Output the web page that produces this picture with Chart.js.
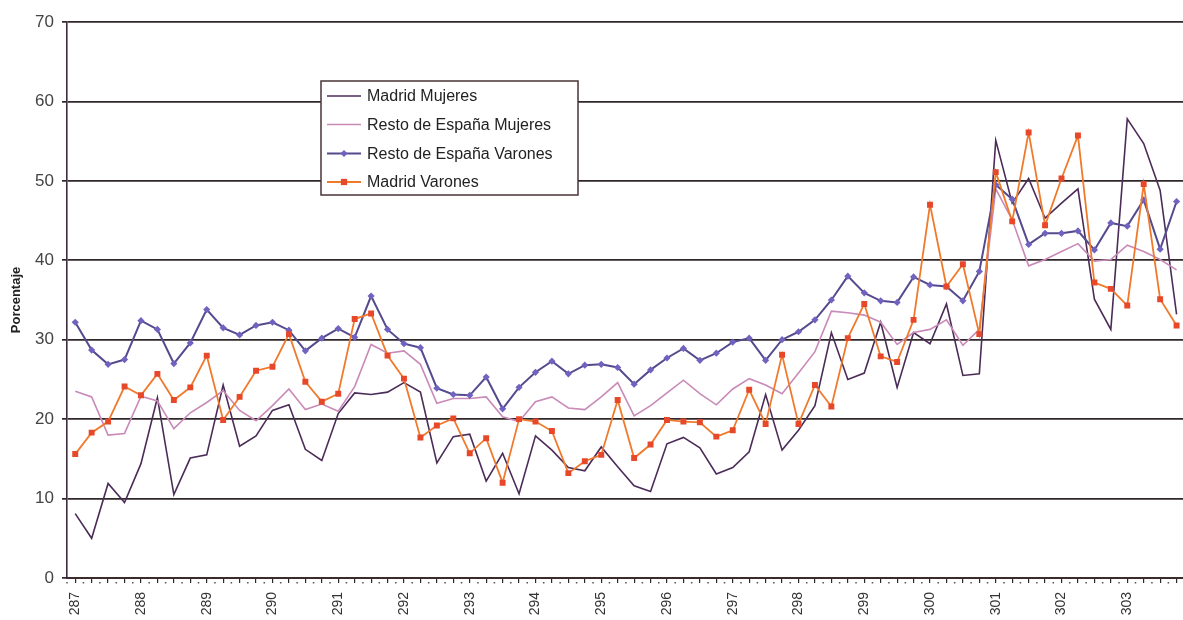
<!DOCTYPE html>
<html>
<head>
<meta charset="utf-8">
<script src="https://cdn.jsdelivr.net/npm/chart.js@4.4.1/dist/chart.umd.min.js"></script>
<style>
  html, body { margin: 0; padding: 0; background: #fff; overflow: hidden; }
  #wrap { width: 1183px; height: 620px; overflow: hidden; }
</style>
</head>
<body>
<div id="wrap"><canvas id="grafico" width="1189" height="620"></canvas></div>
<script>
// periodos: cada etiqueta abarca 4 observaciones
const periodos = ['287','288','289','290','291','292','293','294','295','296','297','298','299','300','301','302','303'];

const madridMujeres = [8.1, 5.0, 11.9, 9.5, 14.4, 22.7, 10.5, 15.1, 15.5, 24.3, 16.6, 17.9, 21.1, 21.8, 16.2, 14.8,
  20.7, 23.3, 23.1, 23.4, 24.6, 23.4, 14.5, 17.8, 18.1, 12.2, 15.7, 10.6, 17.9, 16.1, 13.9, 13.5,
  16.5, 14.0, 11.6, 10.9, 16.9, 17.7, 16.4, 13.1, 13.9, 15.9, 23.1, 16.1, 18.6, 21.7, 30.9, 25.0,
  25.8, 32.2, 24.0, 30.9, 29.5, 34.5, 25.5, 25.7, 55.1, 47.2, 50.3, 45.3, 47.2, 49.0, 35.1, 31.3,
  57.8, 54.7, 48.8, 33.2];

const restoMujeres = [23.5, 22.8, 18.0, 18.2, 22.9, 22.3, 18.8, 20.8, 22.1, 23.6, 21.1, 19.8, 21.7, 23.8, 21.2, 21.9,
  21.0, 24.1, 29.4, 28.3, 28.6, 26.9, 22.0, 22.6, 22.6, 22.8, 20.3, 19.7, 22.2, 22.8, 21.4, 21.2,
  22.8, 24.6, 20.4, 21.7, 23.3, 24.9, 23.2, 21.8, 23.8, 25.1, 24.3, 23.2, 25.8, 28.5, 33.6, 33.4,
  33.1, 32.2, 29.4, 30.9, 31.3, 32.5, 29.3, 31.3, 49.0, 45.1, 39.3, 40.1, 41.1, 42.1, 39.9, 40.1,
  41.9, 41.1, 40.1, 38.8];

const restoVarones = [32.2, 28.7, 26.9, 27.5, 32.4, 31.3, 27.0, 29.6, 33.8, 31.5, 30.6, 31.8, 32.2, 31.2, 28.6, 30.2,
  31.4, 30.3, 35.5, 31.3, 29.5, 29.0, 23.9, 23.1, 23.0, 25.3, 21.3, 24.0, 25.9, 27.3, 25.7, 26.8,
  26.9, 26.5, 24.4, 26.2, 27.7, 28.9, 27.4, 28.3, 29.7, 30.2, 27.4, 30.0, 31.0, 32.5, 35.0, 38.0,
  35.9, 34.9, 34.7, 37.9, 36.9, 36.7, 34.9, 38.6, 49.5, 47.7, 42.0, 43.4, 43.4, 43.7, 41.3, 44.7,
  44.3, 47.6, 41.4, 47.4];

const madridVarones = [15.6, 18.3, 19.7, 24.1, 23.0, 25.7, 22.4, 24.0, 28.0, 19.9, 22.8, 26.1, 26.6, 30.7, 24.7, 22.2,
  23.2, 32.6, 33.3, 28.0, 25.1, 17.7, 19.2, 20.1, 15.7, 17.6, 12.0, 20.0, 19.7, 18.5, 13.2, 14.7,
  15.5, 22.4, 15.1, 16.8, 19.9, 19.7, 19.6, 17.8, 18.6, 23.7, 19.4, 28.1, 19.4, 24.3, 21.6, 30.2,
  34.5, 27.9, 27.2, 32.5, 47.0, 36.7, 39.5, 30.7, 51.1, 44.9, 56.1, 44.4, 50.3, 55.7, 37.2, 36.4,
  34.3, 49.6, 35.1, 31.8];

const etiquetas = periodos.flatMap(p => [p, '', '', '']);

const FUENTE = '"Liberation Sans", Arial, sans-serif';
const GRIS = '#2f2729';

// leyenda flotante dentro del area del grafico
const leyenda = {
  id: 'leyenda',
  afterDraw(chart) {
    const ctx = chart.ctx;
    const x = 321, y = 81, w = 257, h = 114;
    ctx.save();
    ctx.fillStyle = '#fff';
    ctx.fillRect(x, y, w, h);
    ctx.strokeStyle = '#4a3436';
    ctx.lineWidth = 1.5;
    ctx.strokeRect(x, y, w, h);
    ctx.font = '16px ' + FUENTE;
    ctx.textBaseline = 'middle';
    const filas = [96, 124.5, 153.5, 182];
    chart.data.datasets.forEach((ds, i) => {
      const fy = filas[i];
      ctx.strokeStyle = ds.borderColor;
      ctx.lineWidth = ds.borderWidth;
      ctx.beginPath();
      ctx.moveTo(327, fy);
      ctx.lineTo(361, fy);
      ctx.stroke();
      if (ds.pointRadius > 0) {
        ctx.fillStyle = ds.pointBackgroundColor;
        const r = ds.pointRadius;
        ctx.beginPath();
        if (ds.pointStyle === 'rectRot') {
          ctx.moveTo(344, fy - r); ctx.lineTo(344 + r, fy);
          ctx.lineTo(344, fy + r); ctx.lineTo(344 - r, fy);
        } else {
          ctx.rect(344 - r * 0.75, fy - r * 0.75, r * 1.5, r * 1.5);
        }
        ctx.closePath();
        ctx.fill();
      }
      ctx.fillStyle = '#222';
      ctx.fillText(ds.label, 367, fy + 1);
    });
    ctx.restore();
  }
};

// puntos menores entre las marcas del eje X
const puntosEje = {
  id: 'puntosEje',
  afterDraw(chart) {
    const sx = chart.scales.x;
    const ctx = chart.ctx;
    ctx.save();
    ctx.fillStyle = '#555';
    for (let i = -1; i < etiquetas.length; i++) {
      const px = sx.getPixelForValue(i + 0.5);
      if (px < sx.left) continue;
      ctx.fillRect(px - 0.75, sx.top + 4, 1.5, 1.5);
    }
    ctx.restore();
  }
};

new Chart(document.getElementById('grafico'), {
  type: 'line',
  data: {
    labels: etiquetas,
    datasets: [
      {
        label: 'Madrid Mujeres',
        data: madridMujeres,
        borderColor: '#4b2c58',
        borderWidth: 1.6,
        pointRadius: 0,
        tension: 0,
        order: 4
      },
      {
        label: 'Resto de España Mujeres',
        data: restoMujeres,
        borderColor: '#c98ab8',
        borderWidth: 1.6,
        pointRadius: 0,
        tension: 0,
        order: 3
      },
      {
        label: 'Resto de España Varones',
        data: restoVarones,
        borderColor: '#554a8e',
        borderWidth: 2,
        pointStyle: 'rectRot',
        pointRadius: 3.6,
        pointBackgroundColor: '#7063c0',
        pointBorderColor: '#7063c0',
        pointBorderWidth: 0,
        tension: 0,
        order: 2
      },
      {
        label: 'Madrid Varones',
        data: madridVarones,
        borderColor: '#f07a2c',
        borderWidth: 1.8,
        pointStyle: 'rect',
        pointRadius: 4.2,
        pointBackgroundColor: '#e8482a',
        pointBorderColor: '#e8482a',
        pointBorderWidth: 0,
        tension: 0,
        order: 1
      }
    ]
  },
  options: {
    responsive: false,
    animation: false,
    devicePixelRatio: 1,
    layout: { padding: { top: 22, left: 0, right: 0, bottom: 0 } },
    plugins: {
      legend: { display: false },
      tooltip: { enabled: false }
    },
    scales: {
      x: {
        offset: true,
        afterFit(scale) {
          scale.height = 42;
          scale.paddingLeft = 0;
          scale.paddingRight = 0;
        },
        grid: {
          offset: false,
          drawOnChartArea: false,
          drawTicks: true,
          tickLength: 5,
          color: GRIS,
          lineWidth: 1.2
        },
        border: { display: true, color: '#3b2b2b', width: 2 },
        ticks: {
          autoSkip: false,
          minRotation: 90,
          maxRotation: 90,
          padding: 9,
          color: '#333',
          font: { family: FUENTE, size: 14 }
        }
      },
      y: {
        min: 0,
        max: 70,
        afterFit(scale) { scale.width = 67; },
        grid: {
          color: GRIS,
          lineWidth: 1.7,
          tickLength: 5,
          drawTicks: true
        },
        border: { display: true, color: '#3e2c3c', width: 1.6 },
        ticks: {
          stepSize: 10,
          padding: 8,
          color: '#444',
          font: { family: FUENTE, size: 17 }
        },
        title: {
          display: true,
          text: 'Porcentaje',
          color: '#222',
          padding: { top: 9, bottom: 0 },
          font: { family: FUENTE, size: 13, weight: 'bold' }
        }
      }
    }
  },
  plugins: [leyenda, puntosEje]
});
</script>
</body>
</html>
